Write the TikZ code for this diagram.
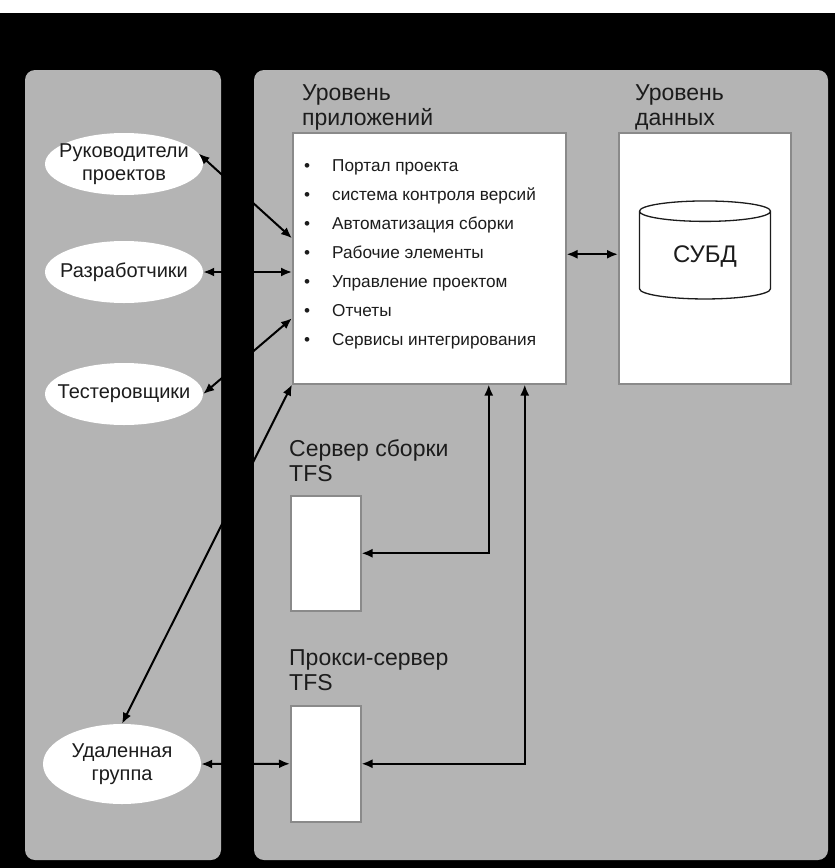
\documentclass[tikz,border=0pt]{standalone}
\usepackage{fontspec}
\setmainfont{Liberation Sans}
\usepackage{xcolor}
\definecolor{panelgray}{HTML}{B4B4B4}
\definecolor{boxedge}{HTML}{8A8A8A}
\definecolor{inkdark}{HTML}{1C1C1C}
\usepackage{tikz}
\usetikzlibrary{positioning,arrows.meta,shapes.geometric}

\begin{document}
\begin{tikzpicture}[
  x=1pt, y=-1pt,
  panel/.style={fill=panelgray, draw=none, rounded corners=10pt},
  actor/.style={
    ellipse, fill=white, draw=none,
    minimum width=158pt, minimum height=62pt,
    text=inkdark, font=\fontsize{20}{23}\selectfont,
    align=center, inner xsep=-14pt, inner ysep=-6pt,
  },
  tierbox/.style={
    draw=boxedge, line width=1.5pt, fill=white,
    inner sep=0pt,
  },
  tierlabel/.style={
    anchor=north west, inner sep=0pt, text=inkdark,
    font=\fontsize{23}{25.5}\selectfont, align=left,
  },
  itemlist/.style={
    anchor=north west, inner sep=0pt, text=inkdark,
    font=\fontsize{17.2}{29}\selectfont, align=left,
  },
  dbms/.style={
    cylinder, shape border rotate=90, aspect=0.29,
    draw=inkdark, line width=1.3pt, fill=white,
    minimum width=131pt, minimum height=98pt,
    text=inkdark, font=\fontsize{24}{26}\selectfont,
  },
  link/.style={draw=black, line width=2pt,
    {Latex[length=11pt,width=9pt]}-{Latex[length=11pt,width=9pt]}},
]
\useasboundingbox (0,0) rectangle (835,868);

% === BACKGROUND AND PANELS ===
\fill[black] (0,13) rectangle (835,868);
\path[panel] (25,70) rectangle (221,860);
\path[panel] (254,70) rectangle (828,860);

% === LEFT PANEL: USERS ===
\node[actor] (lead) at (124,164) {Руководители\\проектов};
\node[actor] (devs) at (124,272) {Разработчики};
\node[actor] (test) at (124,394) {Тестеровщики};
\node[actor, minimum height=80pt] (remote) at (122,764) {Удаленная\\группа};

% === APPLICATION TIER ===
\node[tierlabel] (applbl) at (302,84) {Уровень\\приложений};
\node[tierbox, anchor=north west, minimum width=273pt, minimum height=251pt]
  (app) at (292,132) {};
\node[itemlist] (applist) at (304,159.5) {%
  \makebox[28pt][l]{\textbullet}Портал проекта\\
  \makebox[28pt][l]{\textbullet}система контроля версий\\
  \makebox[28pt][l]{\textbullet}Автоматизация сборки\\
  \makebox[28pt][l]{\textbullet}Рабочие элементы\\
  \makebox[28pt][l]{\textbullet}Управление проектом\\
  \makebox[28pt][l]{\textbullet}Отчеты\\
  \makebox[28pt][l]{\textbullet}Сервисы интегрирования};

% === DATA TIER ===
\node[tierlabel] (datalbl) at (635,84) {Уровень\\данных};
\node[tierbox, anchor=north west, minimum width=172pt, minimum height=251pt]
  (data) at (618,132) {};
\node[dbms] (db) at (705,257) {СУБД};

% === BUILD AND PROXY SERVERS ===
\node[tierlabel] (buildlbl) at (289,439) {Сервер сборки\\TFS};
\node[tierbox, anchor=north west, minimum width=70pt, minimum height=115pt]
  (build) at (290,495) {};
\node[tierlabel] (proxylbl) at (289,649) {Прокси-сервер\\TFS};
\node[tierbox, anchor=north west, minimum width=70pt, minimum height=116pt]
  (proxy) at (290,705) {};

% === CONNECTING LINES ===
\draw[link] (lead.8) -- ([yshift=20pt]app.west);
\draw[link] (devs.east) -- (app.west |- devs.east);
\draw[link] (test.east) -- ([yshift=-60pt]app.west);
\draw[link] (remote.north) -- (app.south west);
\draw[link] (remote.east) -- (proxy.west);

\draw[link] ([yshift=4pt]app.east) -- ([yshift=4pt]data.west);
\draw[link] ([xshift=59.5pt]app.south) |- (build.east);
\draw[link] ([xshift=95.5pt]app.south) |- (proxy.east);

\end{tikzpicture}
\end{document}
